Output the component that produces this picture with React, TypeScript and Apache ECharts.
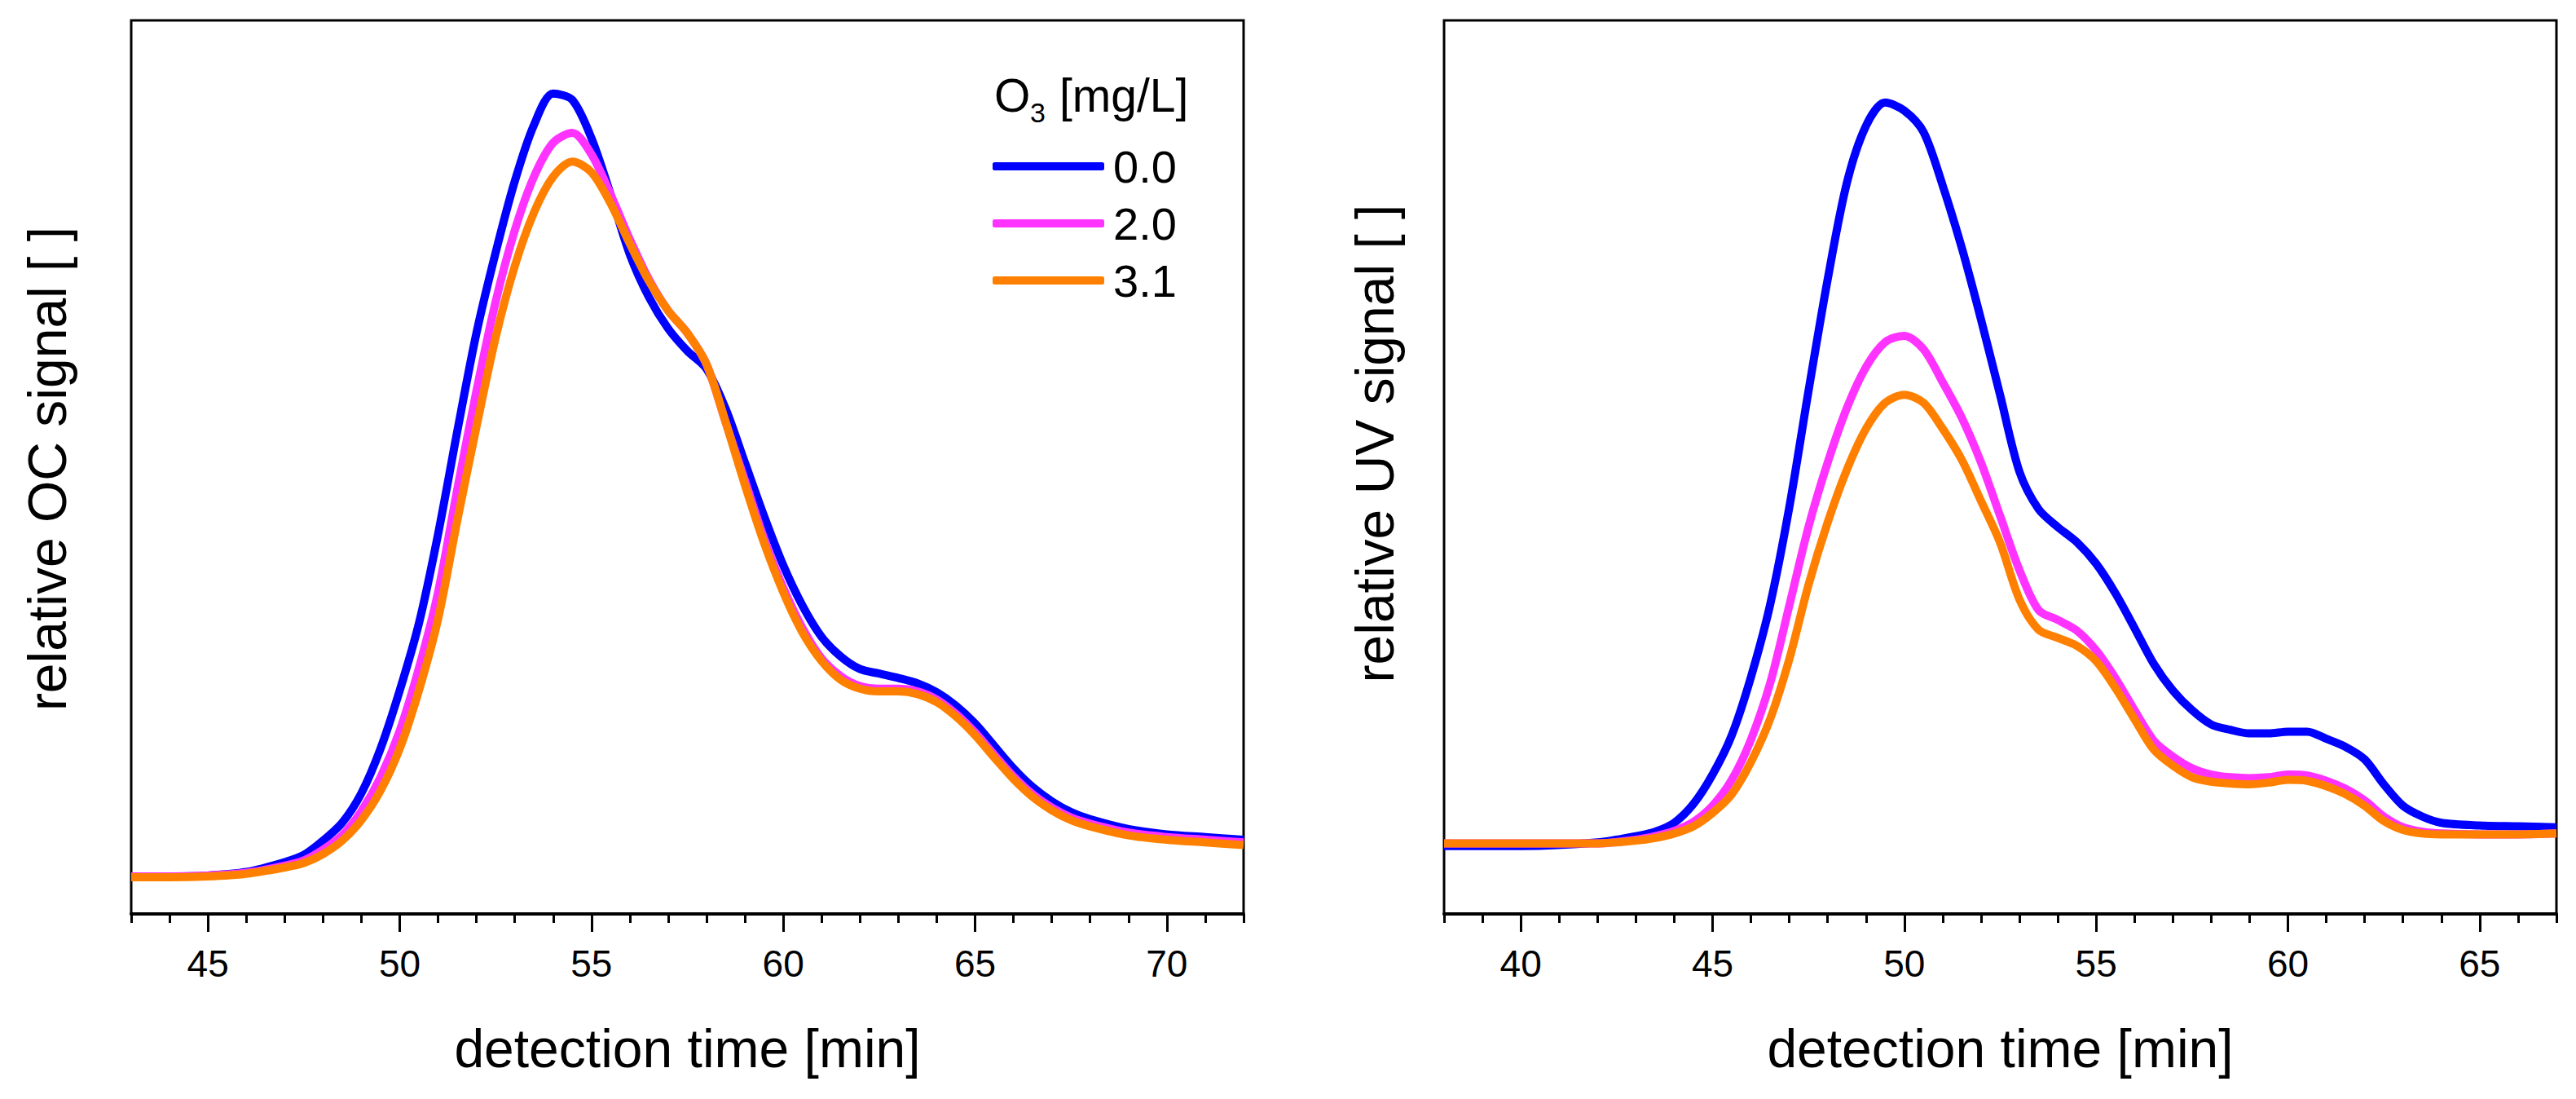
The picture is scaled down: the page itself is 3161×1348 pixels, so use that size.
import { useEffect, useRef } from 'react';
import * as echarts from 'echarts';

const FONT = '"Liberation Sans", Arial, sans-serif';

const SERIES_NAMES = ['0.0', '2.0', '3.1'];
const SERIES_COLORS = ['#0000ff', '#ff33ff', '#ff8000'];

// left panel: organic carbon detector
const OC_TIME = [
  43, 44, 45, 46, 47, 47.5, 48, 48.5, 49, 49.5, 50, 50.5, 51, 51.5, 52, 52.5, 53, 53.5, 54, 54.5,
  55, 55.5, 56, 56.5, 57, 57.5, 58, 58.5, 59, 59.5, 60, 60.5, 61, 61.5, 62, 62.5, 63, 63.5, 64, 64.5,
  65, 65.5, 66, 66.5, 67, 67.5, 68, 69, 70, 71, 72,
];
const OC_00 = [
  4.2, 4.2, 4.3, 4.7, 5.8, 6.6, 8.2, 10.2, 13.5, 18.5, 25, 32.5, 42.5, 54, 65, 74, 82, 88.3, 91.8, 91.1,
  86.8, 80.5, 73.8, 69, 65.5, 63, 61, 56.5, 50.5, 44.5, 39, 34.5, 31, 28.8, 27.4, 26.9, 26.4, 25.8, 24.8, 23.3,
  21.3, 18.8, 16.3, 14.2, 12.6, 11.4, 10.6, 9.5, 8.9, 8.6, 8.3,
];
const OC_20 = [
  4.2, 4.2, 4.3, 4.6, 5.4, 6.0, 7.2, 8.8, 11.5, 15.3, 20.5, 27.5, 36, 47.5, 58.5, 68.5, 76.5, 82.5, 86.3, 87.4,
  85, 80.5, 75.5, 71, 67.5, 65, 61.5, 55, 48.5, 42, 36.5, 32, 28.6, 26.6, 25.5, 25.2, 25.2, 24.9, 24.0, 22.4,
  20.3, 17.8, 15.4, 13.4, 11.9, 10.8, 10.1, 9.1, 8.6, 8.3, 8.0,
];
const OC_31 = [
  4.1, 4.1, 4.2, 4.5, 5.2, 5.7, 6.7, 8.2, 10.5, 13.8, 18.5, 25, 33, 44, 54.5, 64.5, 72.5, 78.5, 82.5, 84.2,
  83, 79.5, 75, 70.8, 67.5, 65, 61.5, 55, 48, 41.5, 36, 31.5, 28.3, 26.2, 25.2, 24.9, 24.9, 24.6, 23.7, 22.1,
  20.0, 17.5, 15.1, 13.1, 11.6, 10.5, 9.8, 8.8, 8.3, 8.0, 7.7,
];

// right panel: UV detector
const UV_TIME = [
  38, 40, 42, 43, 43.5, 44, 44.5, 45, 45.5, 46, 46.5, 47, 47.5, 48, 48.5, 49, 49.5, 50, 50.5, 51,
  51.5, 52, 52.5, 53, 53.5, 54, 54.5, 55, 55.5, 56, 56.5, 57, 57.5, 58, 58.5, 59, 59.5, 60, 60.5, 61,
  61.5, 62, 62.5, 63, 63.5, 64, 65, 66, 67,
];
const UV_00 = [
  7.6, 7.6, 8.0, 8.7, 9.2, 10.2, 12.3, 15.6, 20.0, 26.5, 34.6, 45.5, 58.5, 71, 81.8, 88.2, 90.8, 89.9, 87.5, 81.5,
  74.5, 66.5, 58, 49.5, 45.3, 43.3, 41.6, 39.2, 35.9, 32.0, 28.0, 25.0, 22.8, 21.2, 20.6, 20.2, 20.2, 20.4, 20.4, 19.6,
  18.7, 17.3, 14.5, 12.1, 10.9, 10.2, 9.9, 9.8, 9.7,
];
const UV_20 = [
  7.9, 7.9, 7.9, 8.3, 8.7, 9.3, 10.3, 12.1, 15.0, 19.5, 25.8, 34.5, 43.3, 50.5, 56.6, 61.2, 64.0, 64.7, 63.2, 59.5,
  55.5, 50.5, 44.5, 38.5, 34.0, 32.9, 31.7, 29.5, 26.4, 22.8, 19.4, 17.6, 16.3, 15.6, 15.3, 15.2, 15.3, 15.6, 15.5, 14.9,
  14.0, 12.7, 10.9, 9.7, 9.2, 9.0, 8.9, 8.9, 9.0,
];
const UV_31 = [
  7.9, 7.9, 7.9, 8.2, 8.5, 9.0, 9.8, 11.3, 13.4, 17.0, 21.8, 28.5, 36.8, 43.8, 49.7, 54.3, 57.2, 58.1, 57.2, 54.3,
  50.8, 46.2, 41.5, 35.2, 31.8, 30.9, 30.0, 28.3, 25.3, 21.8, 18.4, 16.6, 15.3, 14.8, 14.6, 14.5, 14.7, 15.0, 14.9, 14.3,
  13.4, 12.1, 10.4, 9.4, 9.0, 8.9, 8.9, 8.9, 9.0,
];

const OC_RANGE = [43, 72];
const UV_RANGE = [38, 67];
const OC_MAJOR = [45, 50, 55, 60, 65, 70];
const UV_MAJOR = [40, 45, 50, 55, 60, 65];

const range = (a: number, b: number) => Array.from({ length: b - a + 1 }, (_, i) => a + i);

const GRID_TOP = 25;
const GRID_H = 1096;
const GRID_W = 1365;
const LEFT_X = 161;
const RIGHT_X = 1772;

function zip(xs: number[], ys: number[]) {
  return xs.map((x, i) => [x, ys[i]]);
}

function majorAxis(gridIndex: number, r: number[], ticks: number[]) {
  return {
    type: 'value',
    gridIndex,
    position: 'bottom',
    min: r[0],
    max: r[1],
    axisLine: { show: true, onZero: false, lineStyle: { color: '#000', width: 4 } },
    axisTick: { show: true, customValues: ticks, length: 22, lineStyle: { color: '#000', width: 3 } },
    axisLabel: {
      show: true,
      customValues: ticks,
      margin: 38,
      color: '#000',
      fontSize: 46,
      fontFamily: FONT,
    },
    splitLine: { show: false },
  };
}

function minorAxis(gridIndex: number, r: number[]) {
  return {
    type: 'value',
    gridIndex,
    position: 'bottom',
    min: r[0],
    max: r[1],
    axisLine: { show: false, onZero: false },
    axisTick: { show: true, customValues: range(r[0], r[1]), length: 11, lineStyle: { color: '#000', width: 3 } },
    axisLabel: { show: false },
    splitLine: { show: false },
  };
}

function hiddenY(gridIndex: number) {
  return {
    type: 'value',
    gridIndex,
    min: 0,
    max: 100,
    axisLine: { show: false },
    axisTick: { show: false },
    axisLabel: { show: false },
    splitLine: { show: false },
  };
}

function lineSeries(name: string, color: string, xAxisIndex: number, yAxisIndex: number, data: number[][]) {
  return {
    type: 'line',
    name,
    xAxisIndex,
    yAxisIndex,
    data,
    smooth: 0.3,
    symbol: 'none',
    showSymbol: false,
    itemStyle: { color },
    lineStyle: { color, width: 10 },
  };
}

export default function App() {
  const chartRef = useRef<HTMLDivElement>(null);

  useEffect(() => {
    if (!chartRef.current) return;
    const chart = echarts.init(chartRef.current, undefined, { renderer: 'svg' });

    const ocData = [OC_00, OC_20, OC_31];
    const uvData = [UV_00, UV_20, UV_31];

    const titleStyle = { fill: '#000', fontSize: 66, fontFamily: FONT, align: 'center', verticalAlign: 'middle' };

    chart.setOption({
      animation: false,
      backgroundColor: '#fff',
      grid: [
        { left: LEFT_X, top: GRID_TOP, width: GRID_W, height: GRID_H, show: true, borderColor: '#000', borderWidth: 3, backgroundColor: '#fff' },
        { left: RIGHT_X, top: GRID_TOP, width: GRID_W, height: GRID_H, show: true, borderColor: '#000', borderWidth: 3, backgroundColor: '#fff' },
      ],
      xAxis: [
        majorAxis(0, OC_RANGE, OC_MAJOR),
        minorAxis(0, OC_RANGE),
        majorAxis(1, UV_RANGE, UV_MAJOR),
        minorAxis(1, UV_RANGE),
      ],
      yAxis: [hiddenY(0), hiddenY(1)],
      legend: {
        data: SERIES_NAMES,
        orient: 'vertical',
        left: 1213,
        top: 171,
        itemWidth: 137,
        itemHeight: 10,
        itemGap: 14,
        icon: 'roundRect',
        selectedMode: false,
        textStyle: { color: '#000', fontSize: 56, fontFamily: FONT, padding: [0, 0, 0, 6] },
      },
      graphic: [
        { type: 'text', x: 1220, y: 117, style: { text: 'O', fill: '#000', fontSize: 57, fontFamily: FONT, verticalAlign: 'middle' } },
        { type: 'text', x: 1264, y: 138, style: { text: '3', fill: '#000', fontSize: 34, fontFamily: FONT, verticalAlign: 'middle' } },
        { type: 'text', x: 1300, y: 117, style: { text: '[mg/L]', fill: '#000', fontSize: 57, fontFamily: FONT, verticalAlign: 'middle' } },
        { type: 'text', x: LEFT_X + GRID_W / 2, y: 1286, style: { ...titleStyle, text: 'detection time [min]' } },
        { type: 'text', x: RIGHT_X + GRID_W / 2, y: 1286, style: { ...titleStyle, text: 'detection time [min]' } },
        { type: 'text', x: 58, y: 575, rotation: Math.PI / 2, style: { ...titleStyle, text: 'relative OC signal [ ]' } },
        { type: 'text', x: 1687, y: 544, rotation: Math.PI / 2, style: { ...titleStyle, text: 'relative UV signal [ ]' } },
      ],
      series: [
        ...SERIES_NAMES.map((n, i) => lineSeries(n, SERIES_COLORS[i], 0, 0, zip(OC_TIME, ocData[i]))),
        ...SERIES_NAMES.map((n, i) => lineSeries(n, SERIES_COLORS[i], 2, 1, zip(UV_TIME, uvData[i]))),
      ],
    });

    return () => chart.dispose();
  }, []);

  return (
    <div
      ref={chartRef}
      style={{ position: 'absolute', left: 0, top: 0, width: 3161, height: 1348, background: '#fff' }}
    />
  );
}
